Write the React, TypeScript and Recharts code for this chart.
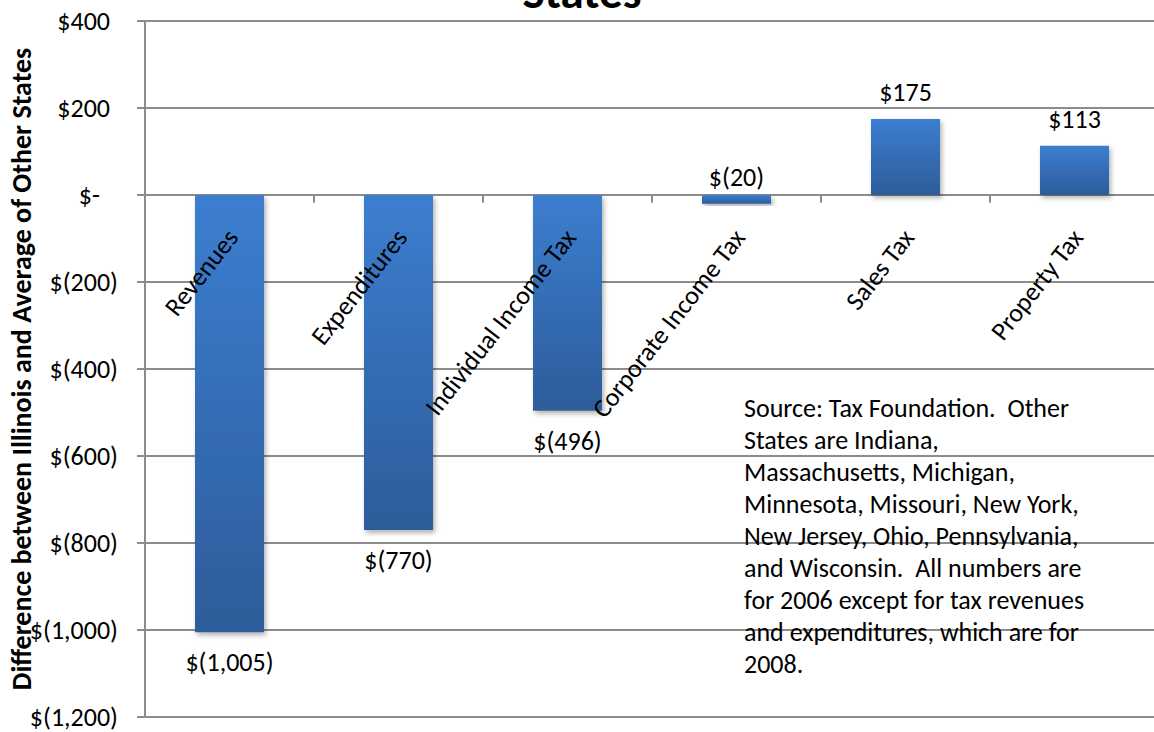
import { Bar, BarChart, CartesianGrid, LabelList, Rectangle, ReferenceLine, XAxis, YAxis } from "recharts";

const categories = [
  "Revenues",
  "Expenditures",
  "Individual Income Tax",
  "Corporate Income Tax",
  "Sales Tax",
  "Property Tax",
];
const differences = [-1005, -770, -496, -20, 175, 113];
const yTicks = [-1200, -1000, -800, -600, -400, -200, 0, 200, 400];
const sourceLines = [
  "Source: Tax Foundation.  Other",
  "States are Indiana,",
  "Massachusetts, Michigan,",
  "Minnesota, Missouri, New York,",
  "New Jersey, Ohio, Pennsylvania,",
  "and Wisconsin.  All numbers are",
  "for 2006 except for tax revenues",
  "and expenditures, which are for",
  "2008.",
];
const yTitle = "Difference between Illinois and Average of Other States";
const chartTitle = "States";

const data = categories.map((name, i) => ({ name, value: differences[i] }));

const FONT = "Carlito, Lato, sans-serif";
const GRID = "#8c8c8c";
const FS = 26;

function money(v: number) {
  if (v === 0) return "$-";
  if (v < 0) return `$(${Math.abs(v).toLocaleString("en-US")})`;
  return `$${v.toLocaleString("en-US")}`;
}

// zero line and bar end, whichever way recharts hands the rect over
function barEnds(y: number, height: number, v: number) {
  const a = Math.min(y, y + height);
  const b = Math.max(y, y + height);
  return v < 0 ? { zero: a, end: b } : { zero: b, end: a };
}

function YTick(props: any) {
  const { x, y, payload } = props;
  const v = payload.value;
  const shift = v > 0 ? 8 : v === 0 ? 18 : 0;
  return (
    <text x={x - shift} y={y} textAnchor="end" dominantBaseline="central" fontFamily={FONT} fontSize={FS} fill="#000">
      {money(v)}
    </text>
  );
}

function YTitle(props: any) {
  const vb = props.viewBox;
  const cx = vb.x + 21;
  const cy = vb.y + vb.height / 2;
  return (
    <text
      x={cx}
      y={cy}
      transform={`rotate(-90 ${cx} ${cy})`}
      textAnchor="middle"
      dominantBaseline="central"
      fontFamily={FONT}
      fontWeight="bold"
      fontSize={28}
      fill="#000"
    >
      {yTitle}
    </text>
  );
}

function ValueLabel(props: any) {
  const { x, y, width, height, index } = props;
  const v = differences[index];
  const { zero, end } = barEnds(Number(y), Number(height), v);
  let cy = end + 30;
  if (v > 0) cy = end - 27;
  else if (v > -50) cy = zero - 18;
  return (
    <text x={x + width / 2} y={cy} textAnchor="middle" dominantBaseline="central" fontFamily={FONT} fontSize={FS} fill="#000">
      {money(v)}
    </text>
  );
}

function CategoryLabel(props: any) {
  const { x, y, width, height, index } = props;
  const v = differences[index];
  const { zero } = barEnds(Number(y), Number(height), v);
  const ax = x + width / 2 + 10;
  const ay = zero + 43;
  return (
    <text x={ax} y={ay} transform={`rotate(-52 ${ax} ${ay})`} textAnchor="end" fontFamily={FONT} fontSize={FS} fill="#000">
      {categories[index]}
    </text>
  );
}

function ShadowBar(props: any) {
  return <Rectangle {...props} fill="url(#barFill)" filter="url(#barShadow)" />;
}

export default function App() {
  return (
    <div style={{ position: "absolute", left: 0, top: 0, width: 1154, height: 732, overflow: "hidden", background: "#fff" }}>
      <BarChart width={1170} height={732} data={data} margin={{ top: 21, right: 11, bottom: 15, left: 0 }} barSize={69}>
        <defs>
          <linearGradient id="barFill" x1="0" y1="0" x2="0" y2="1">
            <stop offset="0%" stopColor="#3c7ed0" />
            <stop offset="100%" stopColor="#2d5c9a" />
          </linearGradient>
          <filter id="barShadow" x="-20%" y="-20%" width="140%" height="140%">
            <feDropShadow dx="2" dy="3" stdDeviation="2.5" floodColor="#000" floodOpacity="0.3" />
          </filter>
        </defs>
        <CartesianGrid vertical={false} stroke={GRID} strokeWidth={2} />
        <XAxis dataKey="name" hide />
        <YAxis
          width={145}
          domain={[-1200, 400]}
          ticks={yTicks}
          interval={0}
          tickSize={8}
          tickMargin={19}
          tick={<YTick />}
          axisLine={{ stroke: GRID, strokeWidth: 2 }}
          tickLine={{ stroke: GRID, strokeWidth: 2 }}
          label={<YTitle />}
        />
        {categories.slice(1).map((c) => (
          <ReferenceLine
            key={c}
            position="start"
            segment={[
              { x: c, y: 0 },
              { x: c, y: -18 },
            ]}
            stroke={GRID}
            strokeWidth={2}
          />
        ))}
        <Bar dataKey="value" isAnimationActive={false} shape={<ShadowBar />}>
          <LabelList dataKey="value" content={<ValueLabel />} />
          <LabelList dataKey="name" content={<CategoryLabel />} />
        </Bar>
      </BarChart>
      <svg width={1154} height={732} style={{ position: "absolute", left: 0, top: 0, pointerEvents: "none" }}>
        <text x={582} y={8} textAnchor="middle" fontFamily={FONT} fontWeight="bold" fontSize={47} fill="#000">
          {chartTitle}
        </text>
        <text fontFamily={FONT} fontSize={FS} fill="#000">
          {sourceLines.map((line, i) => (
            <tspan key={i} x={744} y={417 + i * 32} style={{ whiteSpace: "pre" }}>
              {line}
            </tspan>
          ))}
        </text>
      </svg>
    </div>
  );
}
